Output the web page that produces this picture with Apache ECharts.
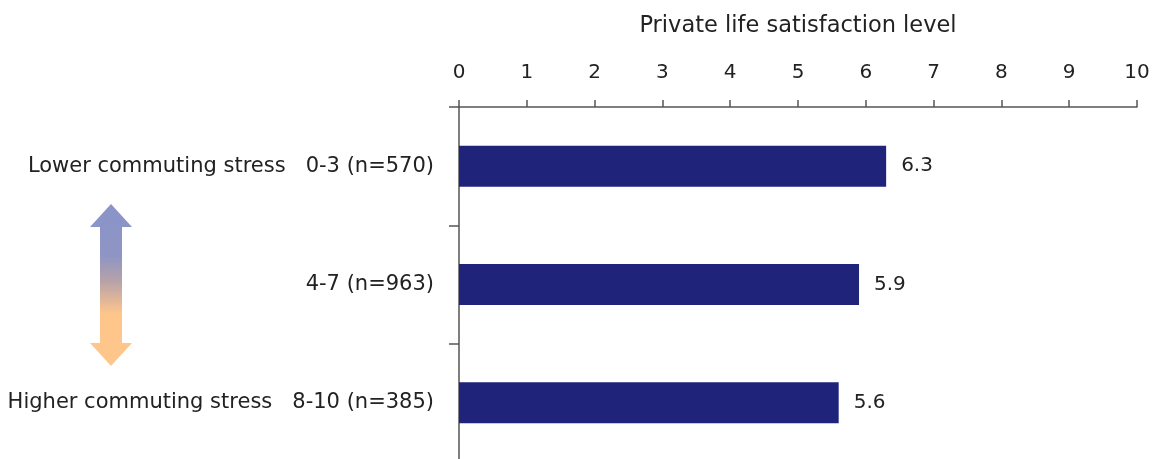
<!DOCTYPE html>
<html>
<head>
<meta charset="utf-8">
<script src="https://cdn.jsdelivr.net/npm/echarts@6/dist/echarts.min.js"></script>
<style>
  html, body { margin: 0; padding: 0; background: #fff; }
  #chart { width: 1152px; height: 459px; }
</style>
</head>
<body>
<div id="chart"></div>
<script>
// Stress groups (top to bottom) and their mean private-life satisfaction
const categories = [
  'Lower commuting stress   0-3 (n=570)',
  '4-7 (n=963)',
  'Higher commuting stress   8-10 (n=385)'
];
const satisfaction = [6.3, 5.9, 5.6];
const axisTitle = 'Private life satisfaction level';

const FONT = '"DejaVu Sans", sans-serif';
const TEXT = '#222';
const LINE = '#555';

const chart = echarts.init(document.getElementById('chart'));

// Double-headed arrow shape (relative to its own origin), tinted blue at top and orange at bottom
const arrowPoints = [
  [21, 0], [42, 23], [32, 23], [32, 139], [42, 139],
  [21, 162], [0, 139], [10, 139], [10, 23], [0, 23]
];

chart.setOption({
  animation: false,
  // plot area runs slightly past the bottom edge so the last band boundary tick is off-canvas
  grid: {
    left: 459, right: 15, top: 107, height: 355,
    containLabel: false,
    outerBoundsMode: 'none'
  },
  xAxis: {
    type: 'value',
    position: 'top',
    min: 0,
    max: 10,
    interval: 1,
    name: axisTitle,
    nameLocation: 'middle',
    nameGap: 69,
    nameTextStyle: { fontFamily: FONT, fontSize: 22.5, color: TEXT },
    axisLine: { show: true, lineStyle: { color: LINE, width: 1.5 } },
    axisTick: { show: true, length: 7, lineStyle: { color: LINE, width: 1.5 } },
    axisLabel: { fontFamily: FONT, fontSize: 20, color: TEXT, margin: 24 },
    splitLine: { show: false }
  },
  yAxis: {
    type: 'category',
    inverse: true,
    data: categories,
    axisLine: { show: true, lineStyle: { color: LINE, width: 1.5 } },
    axisTick: { show: true, length: 10, lineStyle: { color: LINE, width: 1.5 } },
    axisLabel: { fontFamily: FONT, fontSize: 21, color: TEXT, margin: 25 }
  },
  series: [{
    type: 'bar',
    data: satisfaction,
    barWidth: 41,
    itemStyle: { color: '#1F237A' },
    label: {
      show: true,
      position: 'right',
      distance: 15,
      fontFamily: FONT,
      fontSize: 20,
      color: TEXT,
      formatter: p => p.value.toFixed(1)
    }
  }],
  graphic: [{
    type: 'polygon',
    left: 90,
    top: 204,
    shape: { points: arrowPoints },
    style: {
      fill: new echarts.graphic.LinearGradient(0, 0, 0, 1, [
        { offset: 0, color: '#8A94C8' },
        { offset: 0.32, color: '#8E95C4' },
        { offset: 0.48, color: '#B8A2A8' },
        { offset: 0.68, color: '#FFC68C' },
        { offset: 1, color: '#FFC68C' }
      ])
    }
  }]
});
</script>
</body>
</html>
